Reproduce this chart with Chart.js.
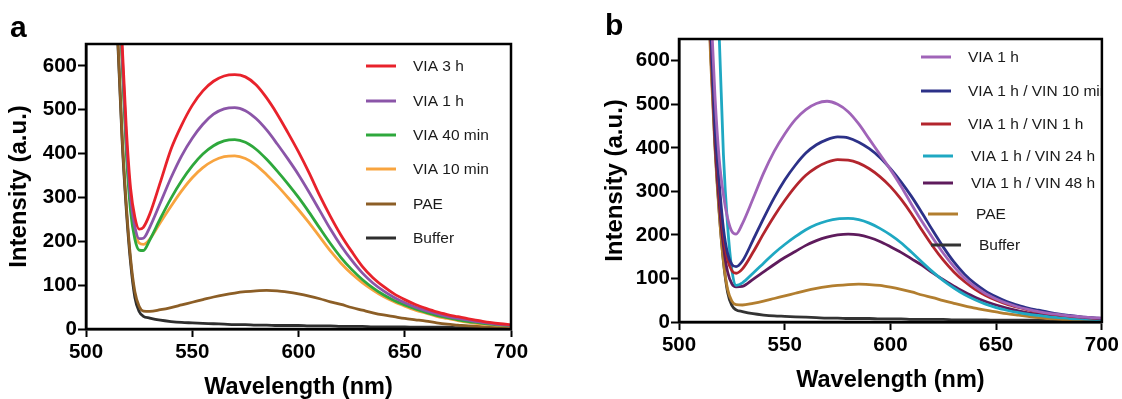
<!DOCTYPE html>
<html>
<head>
<meta charset="utf-8">
<script src="https://cdn.jsdelivr.net/npm/chart.js@4.4.1/dist/chart.umd.min.js"></script>
<style>
  html, body { margin: 0; padding: 0; background: #fff; }
  body { width: 1122px; height: 399px; position: relative; overflow: hidden; }
  .panel { position: absolute; top: 0; height: 399px; }
  #panelA { left: 0; width: 561px; }
  #panelB { left: 593px; width: 529px; }
</style>
</head>
<body>
<div class="panel" id="panelA"><canvas id="chartA"></canvas></div>
<div class="panel" id="panelB"><canvas id="chartB"></canvas></div>
<script>
// wavelength grid (nm), shared by every curve
const wavelength = [512, 515, 517, 519, 521, 523, 525, 527, 530,
  535, 540, 545, 550, 555, 560, 565, 570, 575, 580, 585, 590, 595, 600,
  605, 610, 615, 620, 625, 630, 635, 640, 645, 650, 655, 660, 665, 670,
  675, 680, 685, 690, 695, 700];

const xTicks = [500, 550, 600, 650, 700];
const yTicks = [0, 100, 200, 300, 400, 500, 600];

// panel a
const labelsA = ['VIA 3 h', 'VIA 1 h', 'VIA 40 min', 'VIA 10 min', 'PAE', 'Buffer'];
const via3h = [1200, 880, 650, 455, 320, 255, 228, 232, 262,
  335, 410, 465, 510, 543, 565, 577, 580, 575, 557, 527, 490, 448, 404,
  356, 304, 257, 214, 177, 143, 117, 97, 80, 67, 56, 47, 39, 33,
  28, 23, 19, 15, 12, 10];
const via1hA = [1200, 860, 630, 430, 298, 233, 206, 207, 232,
  288, 345, 395, 435, 467, 490, 502, 505, 498, 480, 454, 422, 388, 352,
  312, 270, 228, 190, 157, 128, 105, 87, 72, 60, 50, 42, 35, 29,
  24, 20, 16, 13, 10, 8];
const via40 = [1200, 840, 610, 400, 268, 205, 180, 179, 203,
  252, 298, 338, 372, 399, 418, 429, 432, 426, 410, 387, 360, 331, 300,
  266, 230, 195, 163, 136, 113, 94, 78, 65, 55, 46, 38, 31, 26,
  21, 17, 14, 11, 9, 7];
const via10 = [1200, 850, 620, 415, 285, 222, 196, 193, 205,
  243, 280, 315, 345, 368, 384, 393, 395, 389, 374, 352, 327, 300, 272,
  242, 210, 178, 150, 126, 106, 89, 74, 62, 52, 43, 36, 29, 24,
  19, 15, 12, 10, 8, 6];
const paeA = [1100, 660, 440, 280, 160, 85, 52, 41, 40,
  44, 49, 55, 61, 67, 73, 78, 82, 85, 87, 88, 87, 84, 80,
  75, 69, 62, 56, 49, 43, 37, 32, 28, 24, 21, 18, 14, 11,
  9, 7, 6, 4, 3, 2];
const bufA = [1100, 650, 430, 270, 150, 72, 40, 29, 25,
  20, 17, 15, 14, 13, 12, 11, 10, 10, 9, 9, 8, 8, 8,
  7, 7, 7, 6, 6, 6, 5, 5, 5, 5, 4, 4, 4, 4,
  3, 3, 3, 3, 3, 3];

// panel b
const labelsB = ['VIA 1 h', 'VIA 1 h / VIN 10 min', 'VIA 1 h / VIN 1 h', 'VIA 1 h / VIN 24 h',
  'VIA 1 h / VIN 48 h', 'PAE', 'Buffer'];
const via1hB = [1000, 730, 520, 375, 292, 238, 208, 202, 226,
  283, 342, 392, 432, 465, 488, 502, 507, 500, 483, 455, 420, 385, 350,
  312, 270, 230, 193, 158, 127, 101, 81, 65, 53, 43, 35, 29, 24,
  20, 17, 14, 12, 10, 9];
const vin10 = [1000, 680, 450, 320, 215, 157, 132, 127, 140,
  188, 238, 285, 326, 360, 388, 407, 419, 425, 423, 413, 398, 378, 352,
  322, 288, 250, 210, 172, 138, 110, 88, 71, 58, 47, 39, 32, 27,
  22, 18, 15, 12, 10, 8];
const vin1h = [1000, 670, 440, 300, 200, 143, 118, 112, 122,
  160, 203, 243, 279, 311, 337, 355, 367, 373, 372, 365, 352, 334, 311,
  282, 248, 210, 174, 142, 115, 93, 75, 61, 50, 41, 34, 28, 23,
  19, 16, 13, 11, 9, 7];
const vin24 = [1400, 1100, 850, 660, 385, 220, 120, 84, 90,
  112, 135, 158, 178, 196, 212, 224, 232, 237, 238, 235, 227, 215, 200,
  182, 160, 137, 115, 95, 78, 63, 51, 41, 33, 27, 22, 18, 15,
  12, 10, 8, 7, 6, 5];
const vin48 = [1000, 660, 420, 275, 175, 115, 88, 81, 82,
  98, 115, 132, 148, 162, 176, 187, 195, 200, 202, 200, 194, 185, 173,
  160, 145, 130, 113, 97, 82, 69, 57, 47, 39, 32, 26, 21, 18,
  15, 12, 10, 8, 7, 6];
const paeB = [1000, 600, 400, 250, 140, 75, 48, 40, 39,
  43, 48, 54, 60, 66, 72, 77, 81, 84, 86, 87, 86, 84, 80,
  75, 69, 62, 56, 49, 43, 37, 32, 27, 23, 19, 16, 13, 10,
  8, 6, 5, 4, 3, 2];
const bufB = [1000, 620, 410, 255, 140, 68, 38, 28, 24,
  19, 16, 14, 13, 12, 11, 10, 9, 9, 8, 8, 8, 7, 7,
  7, 6, 6, 6, 6, 5, 5, 5, 5, 4, 4, 4, 4, 4,
  3, 3, 3, 3, 3, 3];

const colorsA = ['#e8222b', '#8b55a8', '#2ea83c', '#f8a43f', '#8c5e26', '#2e2e2e'];
const colorsB = ['#a064b8', '#2c3188', '#b3252d', '#1fa8c2', '#5e1b5c', '#b27e2f', '#333333'];

const FONT = "'Liberation Sans', Arial, sans-serif";

function toPoints(values) {
  return values.map((v, i) => ({ x: wavelength[i], y: v }));
}

function makeDatasets(labels, series, colors) {
  return series.map((s, i) => ({
    label: labels[i],
    data: toPoints(s),
    borderColor: colors[i],
    backgroundColor: colors[i],
    borderWidth: 2.8,
    pointRadius: 0,
    cubicInterpolationMode: 'monotone',
    fill: false
  }));
}

// legend inside the plot, plot frame and panel letter
const framePlugin = {
  id: 'frame',
  afterDatasetsDraw(chart, args, opts) {
    const { ctx, chartArea: a } = chart;
    ctx.save();
    ctx.beginPath();
    ctx.rect(a.left, a.top, a.right - a.left, a.bottom - a.top);
    ctx.clip();
    ctx.font = '15.5px ' + FONT;
    ctx.textBaseline = 'middle';
    ctx.textAlign = 'left';
    chart.data.datasets.forEach((ds, i) => {
      const it = opts.items[i];
      ctx.strokeStyle = ds.borderColor;
      ctx.lineWidth = 3;
      ctx.beginPath();
      ctx.moveTo(it[0], it[2]);
      ctx.lineTo(it[1], it[2]);
      ctx.stroke();
      ctx.fillStyle = '#1a1a1a';
      ctx.fillText(ds.label, it[3], it[2] + 1);
    });
    ctx.restore();

    ctx.save();
    ctx.strokeStyle = '#000';
    ctx.lineWidth = 2.5;
    ctx.strokeRect(a.left, a.top, a.right - a.left, a.bottom - a.top);
    ctx.fillStyle = '#000';
    ctx.font = 'bold 30px ' + FONT;
    ctx.textBaseline = 'alphabetic';
    ctx.fillText(opts.letter, opts.letterX, opts.letterY);
    ctx.restore();
  }
};

function makeChart(id, datasets, cfg) {
  return new Chart(document.getElementById(id), {
    type: 'line',
    data: { datasets },
    plugins: [framePlugin],
    options: {
      responsive: true,
      maintainAspectRatio: false,
      animation: false,
      layout: { padding: { top: cfg.top, right: cfg.right, left: 0, bottom: 0 } },
      plugins: {
        legend: { display: false },
        tooltip: { enabled: false },
        frame: cfg.frame
      },
      scales: {
        x: {
          type: 'linear',
          min: 500,
          max: 700,
          afterFit: s => { s.height = cfg.xHeight; },
          afterBuildTicks: s => { s.ticks = xTicks.map(v => ({ value: v })); },
          grid: { drawOnChartArea: false, tickLength: 8, tickWidth: 2, tickColor: '#000' },
          border: { color: '#000', width: 2.5 },
          ticks: { color: '#000', padding: 3, font: { family: FONT, size: 20.5, weight: 'bold' } },
          title: {
            display: true,
            text: 'Wavelength (nm)',
            color: '#000',
            font: { family: FONT, size: 23.5, weight: 'bold', lineHeight: 1 },
            padding: { top: 0, bottom: cfg.xTitlePad }
          }
        },
        y: {
          type: 'linear',
          min: 0,
          max: 650,
          afterFit: s => { s.width = cfg.yWidth; },
          afterBuildTicks: s => { s.ticks = yTicks.map(v => ({ value: v })); },
          grid: { drawOnChartArea: false, tickLength: 8, tickWidth: 2, tickColor: '#000' },
          border: { color: '#000', width: 2.5 },
          ticks: { color: '#000', padding: 1, font: { family: FONT, size: 20.5, weight: 'bold' } },
          title: {
            display: true,
            text: 'Intensity (a.u.)',
            color: '#000',
            font: { family: FONT, size: 24, weight: 'bold', lineHeight: 1 },
            padding: { top: cfg.yTitlePad, bottom: 0 }
          }
        }
      }
    }
  });
}

makeChart('chartA',
  makeDatasets(labelsA, [via3h, via1hA, via40, via10, paeA, bufA], colorsA),
  {
    top: 44, right: 50, xHeight: 70, yWidth: 86, xTitlePad: 0, yTitlePad: 7,
    frame: {
      letter: 'a', letterX: 10, letterY: 37,
      items: [[366, 396, 66, 413], [366, 396, 101, 413], [366, 396, 135, 413],
              [366, 396, 169, 413], [366, 396, 204, 413], [366, 396, 238, 413]]
    }
  });

makeChart('chartB',
  makeDatasets(labelsB, [via1hB, vin10, vin1h, vin24, vin48, paeB, bufB], colorsB),
  {
    top: 39, right: 17, xHeight: 77, yWidth: 86, xTitlePad: 7, yTitlePad: 10,
    frame: {
      letter: 'b', letterX: 12, letterY: 35,
      items: [[328, 358, 57, 375], [328, 358, 91, 375], [328, 358, 124, 375],
              [330, 360, 156, 378], [330, 360, 183, 378], [335, 365, 214, 383],
              [338, 368, 245, 386]]
    }
  });
</script>
</body>
</html>
